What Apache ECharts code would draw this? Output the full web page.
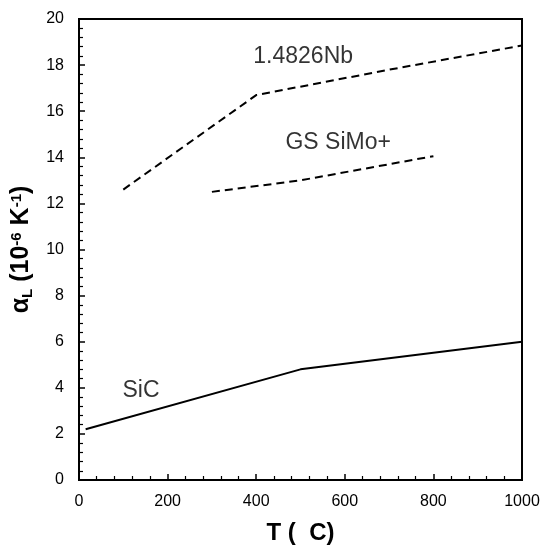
<!DOCTYPE html>
<html>
<head>
<meta charset="utf-8">
<script src="https://cdn.jsdelivr.net/npm/echarts@6/dist/echarts.min.js"></script>
<style>html,body{margin:0;padding:0;background:#fff;}#c{width:544px;height:550px;}</style>
</head>
<body>
<div id="c"></div>
<script>
var sicX = [15, 500, 1000];
var sicY = [2.2, 4.8, 6.0];
var nbX = [100, 400, 700, 1000];
var nbY = [12.6, 16.7, 17.8, 18.85];
var gsX = [300, 500, 800];
var gsY = [12.5, 13.0, 14.05];
var labelNames = ['1.4826Nb', 'GS SiMo+', 'SiC'];
var labelX = [506, 585, 140];
var labelY = [18.36, 14.64, 3.87];
var xTicks = [0, 200, 400, 600, 800, 1000];
var yTicks = [0, 2, 4, 6, 8, 10, 12, 14, 16, 18, 20];

function pairs(xs, ys) { return xs.map(function (x, i) { return [x, ys[i]]; }); }

var font = 'Liberation Sans, Arial, sans-serif';
var chart = echarts.init(document.getElementById('c'));
chart.setOption({
  animation: false,
  grid: { left: 79, right: 22, top: 19, bottom: 68, show: true, borderColor: '#000', borderWidth: 2, backgroundColor: 'transparent' },
  xAxis: {
    type: 'value', min: 0, max: 1000, interval: 200,
    name: 'T (  C)', nameLocation: 'middle', nameGap: 41,
    nameTextStyle: { fontFamily: font, fontSize: 24, fontWeight: 'bold', color: '#000' },
    axisLine: { show: true, lineStyle: { color: '#000', width: 2 } },
    axisTick: { show: true, inside: true, length: 6, lineStyle: { color: '#000', width: 1.5 } },
    minorTick: { show: true, splitNumber: 5, length: 4, lineStyle: { color: '#000', width: 1.2 } },
    axisLabel: { fontFamily: font, fontSize: 16, color: '#000', margin: 14, formatter: function (v) { return String(v); } },
    splitLine: { show: false }
  },
  yAxis: {
    type: 'value', min: 0, max: 20, interval: 2,
    name: '{b|α}{sub|L}{b| (10}{sup|-6}{b| K}{sup|-1}{b|)}',
    nameLocation: 'middle', nameGap: 44, nameRotate: 90,
    nameTextStyle: {
      rich: {
        b: { fontFamily: font, fontSize: 25, fontWeight: 'bold', color: '#000' },
        sub: { fontFamily: font, fontSize: 15, fontWeight: 'bold', color: '#000', padding: [12, 0, 0, 0] },
        sup: { fontFamily: font, fontSize: 15, fontWeight: 'bold', color: '#000', padding: [0, 0, 10, 0] }
      }
    },
    axisLine: { show: true, lineStyle: { color: '#000', width: 2 } },
    axisTick: { show: true, inside: true, length: 6, lineStyle: { color: '#000', width: 1.5 } },
    minorTick: { show: true, splitNumber: 5, length: 4, lineStyle: { color: '#000', width: 1.2 } },
    axisLabel: { fontFamily: font, fontSize: 16, color: '#000', margin: 15 },
    splitLine: { show: false }
  },
  series: [
    { type: 'line', data: pairs(sicX, sicY), symbol: 'none', lineStyle: { color: '#000', width: 2 } },
    { type: 'line', data: pairs(nbX, nbY), symbol: 'none', lineStyle: { color: '#000', width: 2, type: [8, 5] } },
    { type: 'line', data: pairs(gsX, gsY), symbol: 'none', lineStyle: { color: '#000', width: 2, type: [8, 5] } },
    {
      type: 'scatter', symbolSize: 0, silent: true,
      data: labelNames.map(function (n, i) { return { value: [labelX[i], labelY[i]], name: n }; }),
      label: { show: true, position: 'inside', formatter: '{b}', fontFamily: font, fontSize: 23, color: '#000' }
    }
  ]
});
</script>
</body>
</html>
